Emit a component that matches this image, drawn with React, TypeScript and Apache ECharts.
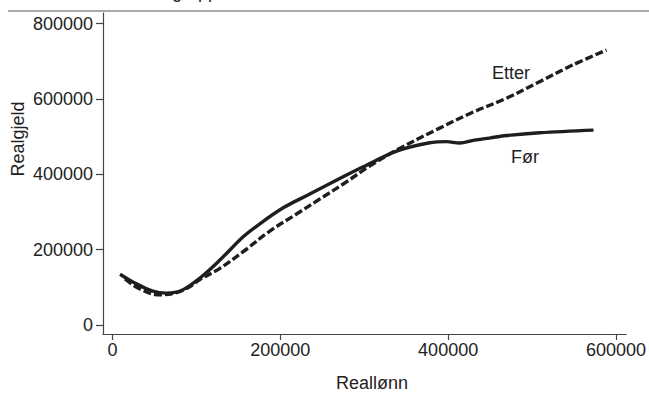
import React, { useEffect, useRef } from "react";
import * as echarts from "echarts";

const FONT = "'Liberation Sans', Arial, Helvetica, sans-serif";

const xTicks = [0, 200000, 400000, 600000];
const yTicks = [0, 200000, 400000, 600000, 800000];

// Før (solid)
const forX = [9000, 25500, 47000, 64400, 81500, 104200, 128000, 155400, 172000, 203000, 235100, 270800, 298200, 338700, 378000, 398200, 413700, 431500, 449400, 469600, 508900, 573200];
const forY = [134700, 112700, 90700, 84600, 90700, 124700, 172400, 233400, 262600, 310300, 347500, 388600, 419100, 461500, 483600, 486700, 482800, 490700, 496000, 502700, 510100, 517200];

// Etter (dashed)
const etterX = [14900, 32700, 55800, 74400, 90500, 104200, 128000, 155700, 187500, 219300, 247000, 276800, 306500, 338700, 389300, 428600, 469000, 508900, 548200, 588700];
const etterY = [122000, 95500, 80100, 84900, 99500, 120700, 150400, 194400, 249300, 294400, 334200, 376700, 421800, 464200, 521800, 563700, 601300, 645400, 689700, 729400];

const seriesNames = ["Før", "Etter"];
const titleText = "Aldersgruppe: alle";
const xTitle = "Reallønn";
const yTitle = "Realgjeld";

export default function App() {
  const ref = useRef<HTMLDivElement>(null);
  useEffect(() => {
    if (!ref.current) return;
    const chart = echarts.init(ref.current, null, { renderer: "svg" });
    const lineColor = "#1e1e1e";
    const axisColor = "#444";
    const labelColor = "#222";
    const fs = 18;
    const fmt = (v: number) => String(Math.round(v));
    chart.setOption({
      animation: false,
      backgroundColor: "#fff",
      grid: { left: 103, right: 22, top: 13, bottom: 67, containLabel: false },
      xAxis: {
        type: "value",
        min: -11300,
        max: 612200,
        splitLine: { show: false },
        axisLine: { show: true, onZero: false, lineStyle: { color: axisColor, width: 1.2 } },
        axisTick: { show: true, length: 6, customValues: xTicks, lineStyle: { color: axisColor, width: 1.2 } },
        axisLabel: { customValues: xTicks, formatter: fmt, margin: 7, fontSize: fs, color: labelColor, fontFamily: FONT },
      },
      yAxis: {
        type: "value",
        min: -23900,
        max: 827900,
        splitLine: { show: false },
        axisLine: { show: true, onZero: false, lineStyle: { color: axisColor, width: 1.2 } },
        axisTick: { show: true, length: 7, customValues: yTicks, lineStyle: { color: axisColor, width: 1.2 } },
        axisLabel: { customValues: yTicks, formatter: fmt, margin: 10, fontSize: fs, color: labelColor, fontFamily: FONT },
      },
      series: [
        {
          name: seriesNames[0],
          type: "line",
          smooth: 0.35,
          symbol: "none",
          data: forX.map((x, i) => [x, forY[i]]),
          lineStyle: { color: lineColor, width: 3.4 },
        },
        {
          name: seriesNames[1],
          type: "line",
          smooth: 0.35,
          symbol: "none",
          data: etterX.map((x, i) => [x, etterY[i]]),
          lineStyle: { color: lineColor, width: 3.4, type: [8, 3] },
        },
      ],
      graphic: [
        {
          type: "text",
          x: 121,
          y: -8,
          style: { text: titleText, font: `${fs}px ${FONT}`, fill: "#222", verticalAlign: "middle", align: "left" },
        },
        {
          type: "line",
          shape: { x1: 8, y1: 11, x2: 649, y2: 11 },
          style: { stroke: "#555", lineWidth: 1 },
        },
        {
          type: "text",
          x: 18,
          y: 139,
          rotation: Math.PI / 2,
          style: { text: yTitle, font: `${fs}px ${FONT}`, fill: labelColor, align: "center", verticalAlign: "middle" },
        },
        {
          type: "text",
          x: 372,
          y: 383,
          style: { text: xTitle, font: `${fs}px ${FONT}`, fill: labelColor, align: "center", verticalAlign: "middle" },
        },
        {
          type: "text",
          x: 511,
          y: 73,
          style: { text: seriesNames[1], font: `${fs}px ${FONT}`, fill: labelColor, align: "center", verticalAlign: "middle" },
        },
        {
          type: "text",
          x: 525,
          y: 157,
          style: { text: seriesNames[0], font: `${fs}px ${FONT}`, fill: labelColor, align: "center", verticalAlign: "middle" },
        },
      ],
    });
    return () => chart.dispose();
  }, []);
  return <div ref={ref} style={{ position: "fixed", left: 0, top: 0, width: 649, height: 401 }} />;
}
